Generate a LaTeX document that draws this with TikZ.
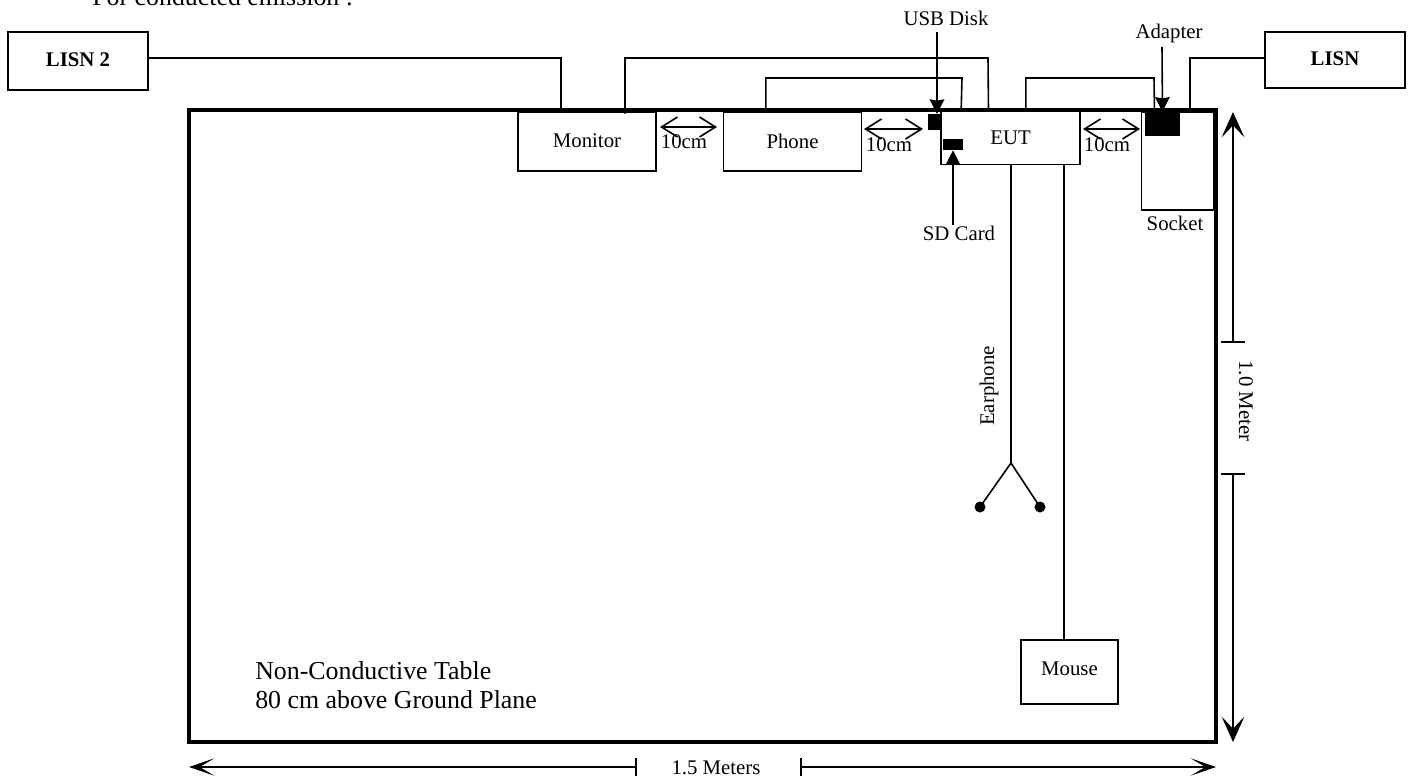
\documentclass[tikz,border=0pt]{standalone}
\usepackage{fontspec}
\setmainfont{Liberation Serif}
\usetikzlibrary{arrows.meta, positioning}

\begin{document}
\begin{tikzpicture}[
  x=0.75pt, y=-0.75pt,
  unit/.style={draw, line width=1.4pt, inner sep=0pt, align=center, font=\fontsize{15.6}{18}\selectfont},
  lisnbox/.style={unit, minimum width=105pt, font=\fontsize{15.6}{18}\selectfont\bfseries},
  block/.style={fill=black, inner sep=0pt},
  tag/.style={inner sep=0pt, font=\fontsize{15.6}{18}\selectfont},
  wire/.style={line width=1.2pt},
  gap/.style={line width=1.2pt, {Straight Barb[length=12pt,width=15pt]}-{Straight Barb[length=12pt,width=15pt]}},
  pointer/.style={line width=1.2pt, -{Stealth[length=11pt,width=11pt,inset=1pt]}},
  dimv/.style={line width=1.2pt, {Bar[width=18pt]}-{Stealth[length=19pt,width=17pt,inset=9pt]}},
  dimh/.style={line width=1.2pt, {Bar[width=13pt]}-{Stealth[length=19pt,width=13pt,inset=11pt]}}
]
  \useasboundingbox (0,0) rectangle (1411,778);

  \node[tag, font=\fontsize{19.4}{23}\selectfont, anchor=base west] (title) at (92,6) {For conducted emission :};

  \node[draw, line width=2.4pt, inner sep=0pt, minimum width=770.25pt, minimum height=474pt] (table) at (702.5,426) {};

  \node[lisnbox, minimum height=43.5pt] (lisntwo) at (78,61) {\raisebox{1.5pt}{LISN 2}};
  \node[lisnbox, minimum height=42pt] (lisn) at (1335,60) {\raisebox{1.5pt}{LISN}};

  \node[unit, minimum width=103.5pt, minimum height=44.25pt] (monitor) at (587,141.5) {\raisebox{1pt}{Monitor}};
  \node[unit, minimum width=103.5pt, minimum height=44.25pt] (phone) at (792.5,141.5) {\raisebox{1pt}{Phone}};
  \node[unit, minimum width=104.25pt, minimum height=39.75pt] (eut) at (1010.5,138) {EUT};
  \node[unit, minimum width=54pt, minimum height=73.5pt] (socket) at (1177.5,161) {};
  \node[unit, minimum width=72.75pt, minimum height=48pt] (mouse) at (1069.5,672) {\raisebox{5pt}{Mouse}};

  \node[block, minimum width=26.25pt, minimum height=18pt] (adapter) at (1162.5,124) {};
  \node[block, minimum width=10.5pt, minimum height=12pt] (usb) at (935,122) {};
  \node[block, minimum width=15pt, minimum height=8.25pt] (sd) at (953,144.5) {};

  \node[tag] (usblabel) at (946,18) {USB Disk};
  \node[tag] (adapterlabel) at (1169,33) {Adapter};
  \node[tag] (sdlabel) at (959,233) {SD Card};
  \node[tag] (socketlabel) at (1175,223) {Socket};
  \node[tag, rotate=90] (earlabel) at (989,386) {Earphone};
  \node[tag, rotate=-90] (heightlabel) at (1246,401) {1.0 Meter};
  \node[tag] (widthlabel) at (716,768) {1.5 Meters};
  \node[tag, font=\fontsize{19.4}{21.75}\selectfont, align=left, anchor=west] (tablelabel) at (255,685.5)
    {Non-Conductive Table\\80 cm above Ground Plane};

  % cables along the top
  \draw[wire] ([yshift=2.25pt]lisntwo.east) -| ([xshift=-19.5pt]monitor.north);
  \draw[wire] ([xshift=28.5pt,yshift=-2pt]monitor.north) |- (988,58) -- ([xshift=-16.5pt]eut.north);
  \draw[wire] ([xshift=-20pt]phone.north) |- (962,78) -- ([xshift=-37pt]eut.north);
  \draw[wire] ([xshift=11.5pt]eut.north) |- (1154,78) -- ([xshift=-6pt]adapter.north);
  \draw[line width=1.9pt] ([yshift=1.5pt]lisn.west) -| (1190,110);

  % earphone
  \coordinate (fork) at (1011,463);
  \node[circle, fill=black, minimum size=8.25pt, inner sep=0pt] (earleft) at (980,507) {};
  \node[circle, fill=black, minimum size=8.25pt, inner sep=0pt] (earright) at (1040,507) {};
  \draw[wire] (fork |- eut.south) -- (fork);
  \draw[wire] (earleft.center) -- (fork) -- (earright.center);

  % mouse
  \draw[wire] (1064,164) -- (1064,640);

  \draw[gap] (660,127) -- (717,127);
  \draw[gap] (864,129) -- (923,129);
  \draw[gap] (1083,129) -- (1140,129);
  \node[tag] (gapa) at (684,142) {10cm};
  \node[tag] (gapb) at (889,145) {10cm};
  \node[tag] (gapc) at (1107,145) {10cm};

  \draw[pointer] (937,32) -- (937,114);
  \draw[pointer] (1162,47) -- (adapter.north);
  \draw[pointer] (953,225) -- (sd.south);

  \draw[dimv] (1233,343) -- (1233,112);
  \draw[dimv] (1233,473) -- (1233,742);
  \draw[dimh] (637,767) -- (189,767);
  \draw[dimh] (800,767) -- (1216,767);
\end{tikzpicture}
\end{document}
